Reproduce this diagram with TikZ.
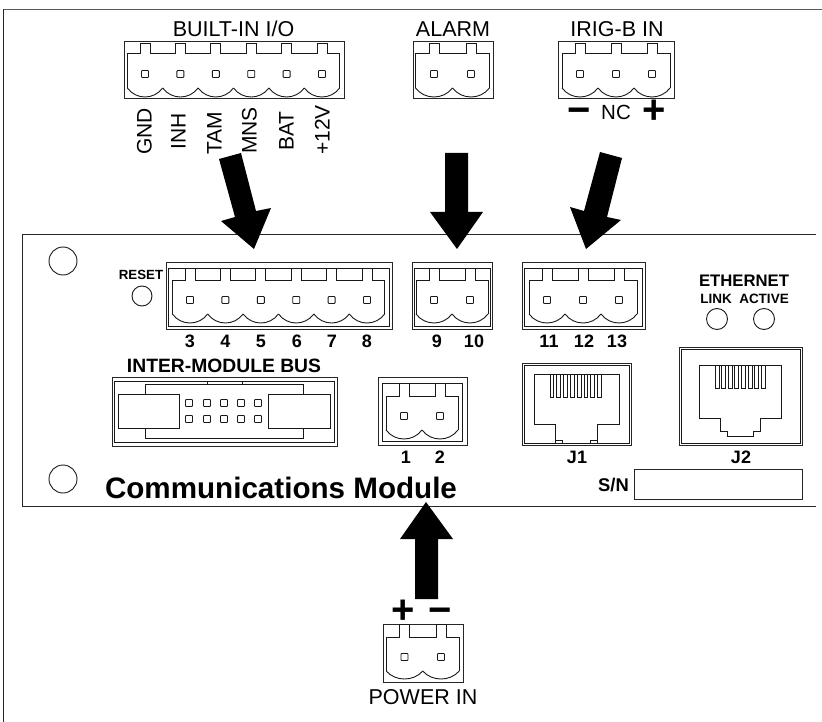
\documentclass[tikz,border=0pt]{standalone}
\usepackage{fontspec}
\setmainfont{Liberation Sans}
\newcommand{\fs}[1]{\fontsize{#1pt}{#1pt}\selectfont}
% pins: list of x; #2 pitch; #3 tab top; #4 body top; #5 pin y; #6 cusp y; #7 bottom y
\newcommand{\plugbody}[7]{%
  \foreach \px in {#1} {
    \draw[ln] (\px-#2/2,#4) -- (\px-5,#4) -- (\px-5,#3) -- (\px+5,#3) -- (\px+5,#4) -- (\px+#2/2,#4);
    \draw[ln] (\px-#2/2,#6) .. controls (\px-#2/4,#6+#7*1.333-#6*1.333) and (\px+#2/4,#6+#7*1.333-#6*1.333) .. (\px+#2/2,#6);
    \draw[ln,rounded corners=0.8pt] (\px-3.5,#5-3.5) rectangle (\px+3.5,#5+3.5);
  }
}
\newcommand{\plugend}[4]{\draw[ln] (#1,#3) -- (#1,#4) (#2,#3) -- (#2,#4);}
\tikzset{
  ln/.style={draw=black!90,line width=0.9pt},
  box/.style={draw=black!85,line width=1pt},
  reg/.style={inner sep=0pt,font=\fs{21.5},text=black},
  lab/.style={inner sep=0pt,font=\fs{21},text=black,rotate=90,anchor=base west},
  num/.style={inner sep=0pt,font=\bfseries\fs{18},text=black,anchor=base},
  sign/.style={inner sep=0pt,font=\bfseries\fs{40},text=black,anchor=base},
  bigarrow/.style={fill=black,draw=none},
  hole/.style={draw=black!90,line width=0.9pt,fill=white}
}
\begin{document}
\begin{tikzpicture}[x=1pt,y=-1pt]
\useasboundingbox (0,0) rectangle (822,722);
\fill[white] (0,0) rectangle (822,722);
% frame
\draw[box,black!65,line width=1.2pt] (822,9.5) -- (3,9.5);
\draw[box,black!85] (3,722) -- (3,9);
% panel
\draw[box] (816,234.5) -- (22.5,234.5) -- (22.5,506.5) -- (816,506.5);
\draw[hole] (63,261) circle (14);
\draw[hole] (63,479) circle (14);
\draw[hole] (142,296) circle (10);
\draw[hole] (717,319) circle (10.5);
\draw[hole] (764,319) circle (10.5);

% top plugs
\draw[box] (124,42) rectangle (344,99);
\plugbody{145,180.4,215.8,251.2,286.6,322}{35.4}{43}{53}{74}{88}{97}
\plugend{127.3}{339.7}{53}{88}
\draw[box] (413,42) rectangle (493,99);
\plugbody{434,471}{37}{43}{53}{74}{88}{97}
\plugend{415.5}{489.5}{53}{88}
\draw[box] (558,42) rectangle (674,99);
\plugbody{580,616,652}{36}{43}{53}{74}{88}{97}
\plugend{562}{670}{53}{88}

% panel plugs
\draw[box] (166,262) rectangle (392,329);
\draw[ln] (168,268) rectangle (389,326);
\plugbody{190,225.4,260.8,296.2,331.6,367}{35.4}{268}{280}{300}{314}{323}
\plugend{172.3}{384.7}{280}{314}
\draw[box] (412,262) rectangle (492,329);
\draw[ln] (414,268) rectangle (490,326);
\plugbody{434,470}{36}{268}{280}{300}{314}{323}
\plugend{416}{488}{280}{314}
\draw[box] (522,262) rectangle (645,329);
\draw[ln] (524,268) rectangle (642,326);
\plugbody{547,583,619}{36}{268}{280}{300}{314}{323}
\plugend{529}{637}{280}{314}

% power socket
\draw[box] (378,377) rectangle (467,445);
\draw[ln] (382,383) rectangle (462,441);
\plugbody{404,440}{36}{383}{396}{416}{430}{439}
\plugend{386}{458}{396}{430}
% power in plug
\draw[box] (383,624) rectangle (463,682);
\plugbody{404.5,441}{36.5}{624}{637}{657}{671}{679}
\plugend{386.25}{459.25}{637}{671}

% inter-module bus
\draw[box] (112,377) rectangle (337,446);
\draw[ln] (114,381) rectangle (334,442);
\draw[ln] (145,384) rectangle (303,438);
\draw[ln,fill=white] (118,394) rectangle (179,428);
\draw[ln,fill=white] (268,394) rectangle (330,428);
\draw[ln] (207,381) rectangle (242,384);
\foreach \px in {189,207,224,241,258} \foreach \py in {403,419}
  \draw[ln,rounded corners=0.8pt] (\px-3.5,\py-3.5) rectangle (\px+3.5,\py+3.5);

% J1
\draw[box] (522,363) rectangle (631,445);
\draw[ln] (524,365) rectangle (629,443);
\draw[ln] (555,443) -- (555,424) -- (534,424) -- (534,374) -- (619,374) -- (619,424) -- (597,424) -- (597,443);
\draw[ln] (555,440) rectangle (562,443);
\draw[ln] (590,440) rectangle (597,443);
\foreach \i in {0,...,7}
  \draw[ln] (550+\i*6.8,374) rectangle (553.8+\i*6.8,397);

% J2
\draw[box] (679,347) rectangle (802,445);
\draw[ln] (681,349) rectangle (800,443);
\draw[ln] (699,365) -- (781,365) -- (781,418) -- (760,418) -- (760,431) -- (753,431) -- (753,436) -- (727,436) -- (727,431) -- (720,431) -- (720,418) -- (699,418) -- cycle;
\foreach \i in {0,...,7}
  \draw[ln] (715+\i*6.6,365) rectangle (719+\i*6.6,388);

% S/N
\draw[box] (634,469) rectangle (802,499);

% arrows
\fill[bigarrow] (219,159) -- (241,153) -- (256,211) -- (271,208) -- (254,249) -- (221,221) -- (235,217) -- cycle;
\fill[bigarrow] (445,153) -- (468,153) -- (468,212) -- (483,212) -- (457,249) -- (430,212) -- (445,212) -- cycle;
\fill[bigarrow] (600,152) -- (622,158) -- (607,217) -- (621,220) -- (586,249) -- (570,207) -- (584,211) -- cycle;
\fill[bigarrow] (415,599) -- (438,599) -- (438,539) -- (453,539) -- (426,502) -- (400,539) -- (415,539) -- cycle;

% texts
\node[reg,anchor=base] (tbuiltin) at (233.5,37) {BUILT-IN I/O};
\node[reg,anchor=base] (talarm) at (453,37) {ALARM};
\node[reg,anchor=base] (tirig) at (617,37) {IRIG-B IN};
\node[lab] (lgnd) at (151.5,155) {GND};
\node[lab] (linh) at (185.5,150) {INH};
\node[lab] (ltam) at (221.5,155) {TAM};
\node[lab] (lmns) at (256.5,154) {MNS};
\node[lab] (lbat) at (293.5,151) {BAT};
\node[lab] (ltw) at (329.5,155) {+12V};
\node[sign] (tminus) at (579.5,124) {−};
\node[inner sep=0pt,font=\fs{20.5},anchor=base] (tnc) at (616,120) {NC};
\node[sign] (tplus) at (654,124) {+};
\node[sign] (pplus) at (403,623) {+};
\node[sign] (pminus) at (440.5,623) {−};
\node[reg,anchor=base] (tpower) at (423,704) {POWER IN};

\foreach \n/\x in {3/190,4/225.5,5/261,6/297,7/332,8/367,9/437,10/474,11/549,12/584,13/617}
  \node[num] (n\n) at (\x,347) {\n};
\node[num] (n1) at (406,463) {1};
\node[num] (n2) at (440,463) {2};
\node[num] (tj1) at (577,463) {J1};
\node[num] (tj2) at (741,463) {J2};
\node[num,anchor=base east,font=\bfseries\fs{18.4}] (tsn) at (629,491) {S/N};
\node[num,font=\bfseries\fs{19.3}] (tbus) at (224,372) {INTER-MODULE BUS};
\node[num,font=\bfseries\fs{16.7}] (teth) at (744,287) {ETHERNET};
\node[num,font=\bfseries\fs{13.5}] (tlink) at (716,303) {LINK};
\node[num,font=\bfseries\fs{13.5}] (tact) at (764,303) {ACTIVE};
\node[num,font=\bfseries\fs{13.3}] (trst) at (141,279) {RESET};
\node[num,font=\bfseries\fs{29.6}] (tcm) at (281,498) {Communications Module};
\end{tikzpicture}
\end{document}
